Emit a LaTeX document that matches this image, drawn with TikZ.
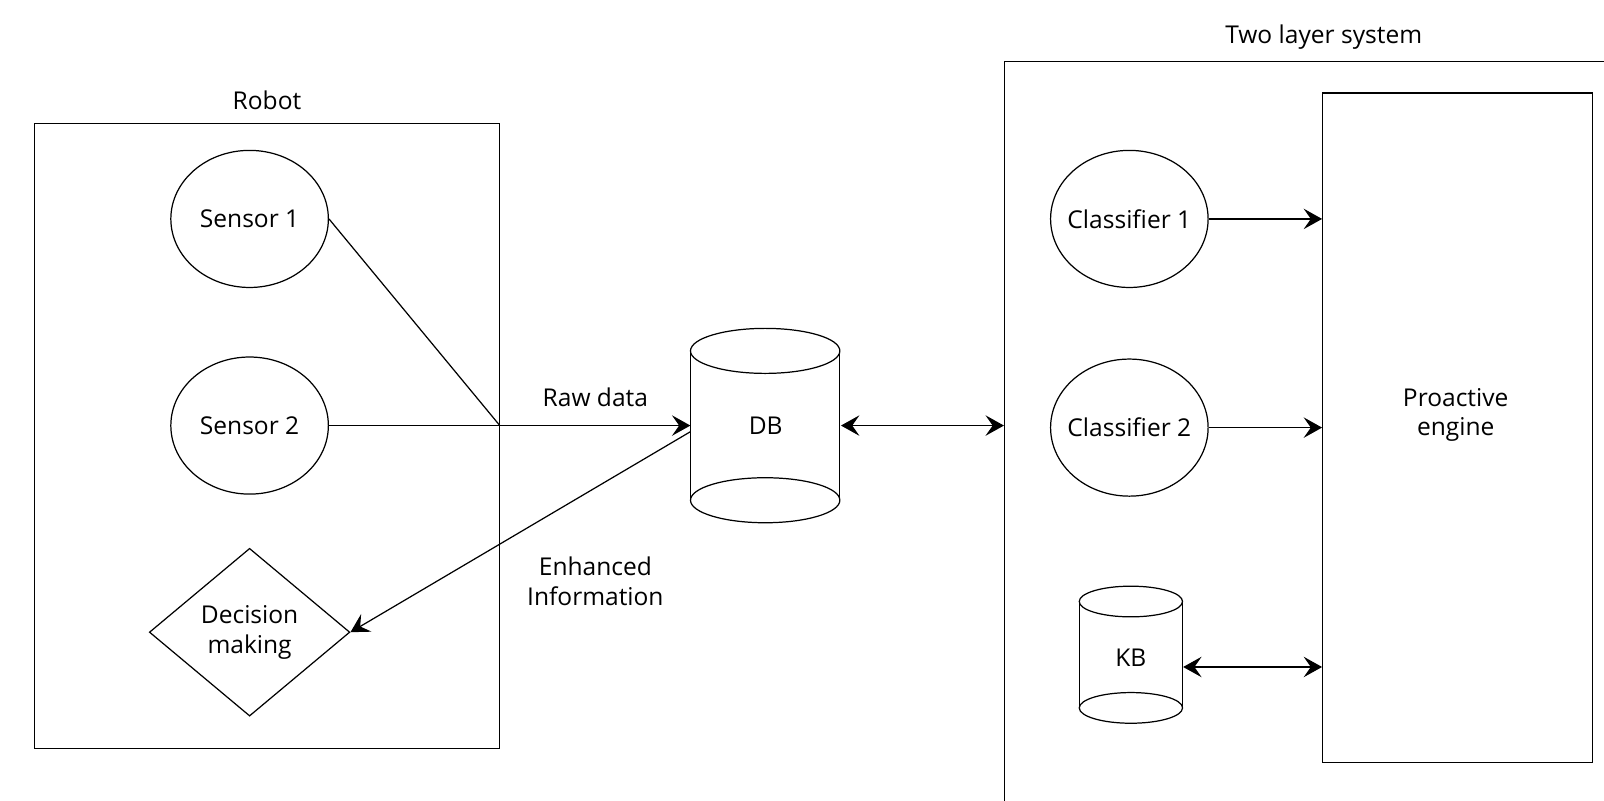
\documentclass[tikz,border=0pt]{standalone}
\usepackage{fontspec}
\setmainfont{Open Sans}
\usetikzlibrary{shapes.geometric,arrows.meta,calc}

\tikzset{
  blob/.style={draw, ellipse, minimum width=77pt, minimum height=67pt, inner ysep=0pt, inner xsep=-12pt},
  frame/.style={draw, rectangle, inner sep=0pt},
  tip/.style={-{Stealth[length=9pt,width=10pt,inset=3.5pt]}},
  twotip/.style={{Stealth[length=9pt,width=10pt,inset=3.5pt]}-{Stealth[length=9pt,width=10pt,inset=3.5pt]}},
}

\begin{document}
\begin{tikzpicture}[x=0.5pt, y=-0.5pt, line width=0.6pt, font=\fontsize{12}{14.5}\selectfont]
        \fill[white] (0,0) rectangle (1568,783);
        \clip (0,0) rectangle (1568,783);

        % Robot side
        \node[frame, minimum width=227pt, minimum height=305.5pt] (robot) at (261,426.5) {};
        \node[above=3pt] at (robot.north) {Robot};

        \node[blob] (s1) at (244,214) {Sensor 1};
        \node[blob] (s2) at (244,416) {Sensor 2};
        \node[draw, diamond, aspect=1.2, minimum width=98pt, minimum height=82pt, inner sep=0pt] (dm) at (244,618) {};
        \node[align=center] at (244,618.5) {Decision\\making};

        % DB cylinder (both ends drawn whole)
        \draw (748,343) ellipse [x radius=73, y radius=22];
        \draw (748,489) ellipse [x radius=73, y radius=22];
        \draw (675,343) -- (675,489);
        \draw (821,343) -- (821,489);
        \node[minimum width=73pt, minimum height=95pt, inner sep=0pt] (db) at (748.5,416) {DB};

        % Raw data into DB
        \coordinate (j) at (robot.east |- s2.east);
        \draw (s1.east) -- (j);
        \draw[tip] (s2.east) -- (db.west);
        \node at (582,388) {Raw data};

        % Enhanced information back to robot
        \draw[tip] ([yshift=-3pt]db.west) -- (dm.east);
        \node[align=center] at (582,568) {Enhanced\\Information};

        % Two layer system
        \node[frame, minimum width=312pt, minimum height=380pt] (sys) at (1294,440) {};
        \node[above=2pt] at (sys.north) {Two layer system};
        \draw[twotip] (db.east) -- (sys.west |- db.east);

        \node[frame, minimum width=132pt, minimum height=327pt] (pe) at (1425,418) {};
        \node[align=center] at (1423,405.5) {Proactive\\engine};

        \node[blob] (c1) at (1104,214) {Classifier 1};
        \node[blob] (c2) at (1104,418) {Classifier 2};
        \draw[tip] (c1.east) -- (c1.east -| pe.west);
        \draw[tip] (c2.east) -- (c2.east -| pe.west);

        % KB cylinder
        \draw (1105.5,588) ellipse [x radius=50.5, y radius=15];
        \draw (1105.5,692) ellipse [x radius=50.5, y radius=15];
        \draw (1055,588) -- (1055,692);
        \draw (1156,588) -- (1156,692);
        \node[minimum width=50.5pt, minimum height=67pt, inner sep=0pt] (kb) at (1105.5,643) {KB};

        \coordinate (kbr) at ([yshift=-4.5pt]kb.east);
        \draw[twotip] (kbr) -- (kbr -| pe.west);

    \end{tikzpicture}
\end{document}
